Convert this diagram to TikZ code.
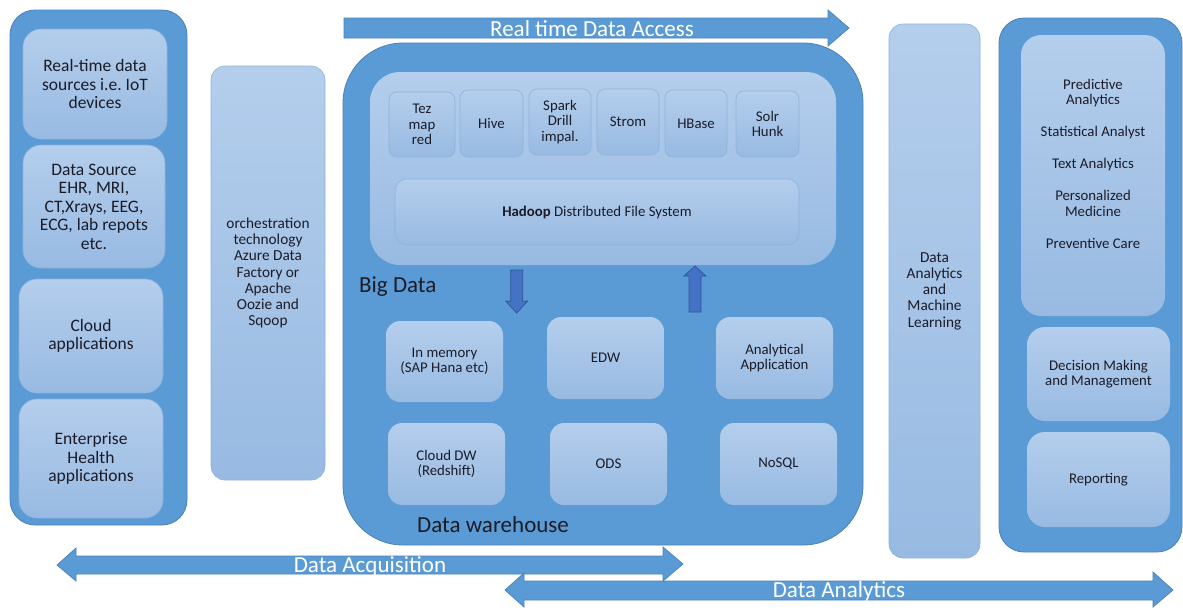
\documentclass[tikz,border=0pt]{standalone}
\usepackage{fontspec}
\setmainfont{Carlito}
\frenchspacing
\definecolor{midb}{HTML}{5B9BD5}
\definecolor{bordc}{HTML}{4A80B8}
\definecolor{ltop}{HTML}{B4CEEC}
\definecolor{lbot}{HTML}{98BAE2}
\definecolor{lbord}{HTML}{8DB2DD}
\definecolor{darkb}{HTML}{4472C4}
\definecolor{darkbord}{HTML}{2F5597}
\definecolor{txt}{HTML}{1C1C28}
\begin{document}
\begin{tikzpicture}[x=1pt,y=-1pt,
  outerbox/.style={draw=bordc, fill=midb, line width=0.8pt, inner sep=0pt, outer sep=0pt},
  lbox/.style={draw=lbord, line width=0.6pt, top color=ltop, bottom color=lbot, inner sep=0pt, outer sep=0pt, align=center, text=txt},
  tbig/.style={font=\fontsize{17.5}{18.5}\selectfont},
  tmid/.style={font=\fontsize{15.3}{16.2}\selectfont},
  tsmall/.style={font=\fontsize{14.8}{15.5}\selectfont},
  blockarrow/.style={fill=midb, draw=bordc, line width=0.7pt},
  smallarrow/.style={fill=darkb, draw=darkbord, line width=0.7pt},
  arrowtext/.style={text=white, font=\fontsize{23}{24}\selectfont, inner sep=0pt},
  label/.style={text=txt, font=\fontsize{23}{24}\selectfont, inner sep=0pt, anchor=west}
]
\useasboundingbox (0,0) rectangle (1183,611);
\fill[white] (0,0) rectangle (1183,611);

% ---------- left panel ----------
\node[outerbox, rounded corners=25pt, minimum width=177pt, minimum height=515pt] (left) at (98.5,267.5) {};
\node[lbox, tbig, rounded corners=18pt, minimum width=144pt, minimum height=110pt] (rt) at (95,84) {Real-time data\\sources i.e. IoT\\devices};
\node[lbox, tbig, rounded corners=18pt, minimum width=142pt, minimum height=123pt] (ds) at (94,206.5) {Data Source\\EHR, MRI,\\CT,Xrays, EEG,\\ECG, lab repots\\etc.};
\node[lbox, tbig, rounded corners=18pt, minimum width=144pt, minimum height=114pt] (cloud) at (91,336) {Cloud\\applications};
\node[lbox, tbig, rounded corners=18pt, minimum width=144pt, minimum height=119pt] (ent) at (91,458.5) {Enterprise\\Health\\applications};

% ---------- orchestration ----------
\node[lbox, tmid, rounded corners=14pt, minimum width=114pt, minimum height=414pt] (orch) at (268,273) {orchestration\\technology\\Azure Data\\Factory or\\Apache\\Oozie and\\Sqoop};

% ---------- big data / data warehouse ----------
\node[outerbox, rounded corners=60pt, minimum width=520pt, minimum height=502pt] (bd) at (603,294) {};
\node[lbox, rounded corners=30pt, minimum width=466pt, minimum height=193pt, draw=none] (hd) at (603,168.5) {};
\node[lbox, tsmall, rounded corners=8pt, minimum width=66pt, minimum height=65pt] (tez) at (422,124.5) {Tez\\map\\red};
\node[lbox, tsmall, rounded corners=8pt, minimum width=63pt, minimum height=67pt] (hive) at (491.5,123.5) {Hive};
\node[lbox, tsmall, rounded corners=8pt, minimum width=62pt, minimum height=66pt] (spark) at (560,122) {Spark\\Drill\\impal.};
\node[lbox, tsmall, rounded corners=8pt, minimum width=62pt, minimum height=66pt] (strom) at (628,122) {Strom};
\node[lbox, tsmall, rounded corners=8pt, minimum width=62pt, minimum height=67pt] (hbase) at (696,123.5) {HBase};
\node[lbox, tsmall, rounded corners=8pt, minimum width=63pt, minimum height=66pt] (solr) at (767.5,124) {Solr\\Hunk};
\node[lbox, tsmall, rounded corners=12pt, minimum width=404pt, minimum height=66pt] (hdfs) at (597,212) {\textbf{Hadoop} Distributed File System};

\node[label] (bigdata) at (359,287) {Big Data};

% down / up arrows
\coordinate (dn) at (516.7,270);
\coordinate (up) at (695,312);
\draw[smallarrow] (dn) ++(-6,0) -- ++(12,0) -- ++(0,31) -- ++(5,0) -- (516.7,313) -- (505.7,301) -- (510.7,301) -- cycle;
\draw[smallarrow] (up) ++(-6,0) -- ++(12,0) -- ++(0,-36) -- ++(5,0) -- (695,266) -- (684,276) -- (689,276) -- cycle;

\node[lbox, tsmall, draw=none, rounded corners=14pt, minimum width=117pt, minimum height=81pt] (inmem) at (444.5,361.5) {In memory\\(SAP Hana etc)};
\node[lbox, tsmall, draw=none, rounded corners=14pt, minimum width=117pt, minimum height=82pt] (edw) at (605.5,358) {EDW};
\node[lbox, tsmall, draw=none, rounded corners=14pt, minimum width=117pt, minimum height=82pt] (anal) at (774.5,358) {Analytical\\Application};
\node[lbox, tsmall, draw=none, rounded corners=14pt, minimum width=117pt, minimum height=82pt] (clouddw) at (446.5,464) {Cloud DW\\(Redshift)};
\node[lbox, tsmall, draw=none, rounded corners=14pt, minimum width=117pt, minimum height=82pt] (ods) at (608.5,464) {ODS};
\node[lbox, tsmall, draw=none, rounded corners=14pt, minimum width=117pt, minimum height=82pt] (nosql) at (778.5,464) {NoSQL};

\node[label] (dw) at (417,525) {Data warehouse};

% ---------- data analytics & ML ----------
\node[lbox, tmid, rounded corners=14pt, minimum width=91pt, minimum height=534pt] (daml) at (934.5,291) {Data\\Analytics\\and\\Machine\\Learning};

% ---------- right panel ----------
\node[outerbox, rounded corners=25pt, minimum width=183pt, minimum height=534pt] (right) at (1090.5,285) {};
\node[lbox, draw=none, rounded corners=20pt, minimum width=144pt, minimum height=281pt] (uses) at (1093,175.5) {};
\node[text=txt, tsmall, align=center, anchor=north, inner sep=0pt] (usestxt) at (1093,79)
  {Predictive\\Analytics\\[16.5pt]Statistical Analyst\\[16.5pt]Text Analytics\\[16.5pt]Personalized\\Medicine\\[16.5pt]Preventive Care};
\node[lbox, tsmall, draw=none, rounded corners=18pt, minimum width=143pt, minimum height=94pt] (dec) at (1098.5,374) {Decision Making\\and Management};
\node[lbox, tsmall, draw=none, rounded corners=18pt, minimum width=143pt, minimum height=95pt] (rep) at (1098.5,479.5) {Reporting};

% ---------- block arrows ----------
\draw[blockarrow] (344,18) -- (828,18) -- (828,10) -- (849,28) -- (828,46) -- (828,38) -- (344,38) -- cycle;
\node[arrowtext] (rtda) at (592,29) {Real time Data Access};

\draw[blockarrow] (57,565) -- (76,548) -- (76,556) -- (663,556) -- (663,547) -- (683,564) -- (663,581) -- (663,574) -- (76,574) -- (76,581) -- cycle;
\node[arrowtext] (acq) at (370,566) {Data Acquisition};

\draw[blockarrow] (505,590) -- (524,573) -- (524,581) -- (1153,581) -- (1153,572) -- (1173,590) -- (1153,607) -- (1153,600) -- (524,600) -- (524,607) -- cycle;
\node[arrowtext] (ana) at (839,591) {Data Analytics};
\end{tikzpicture}
\end{document}
